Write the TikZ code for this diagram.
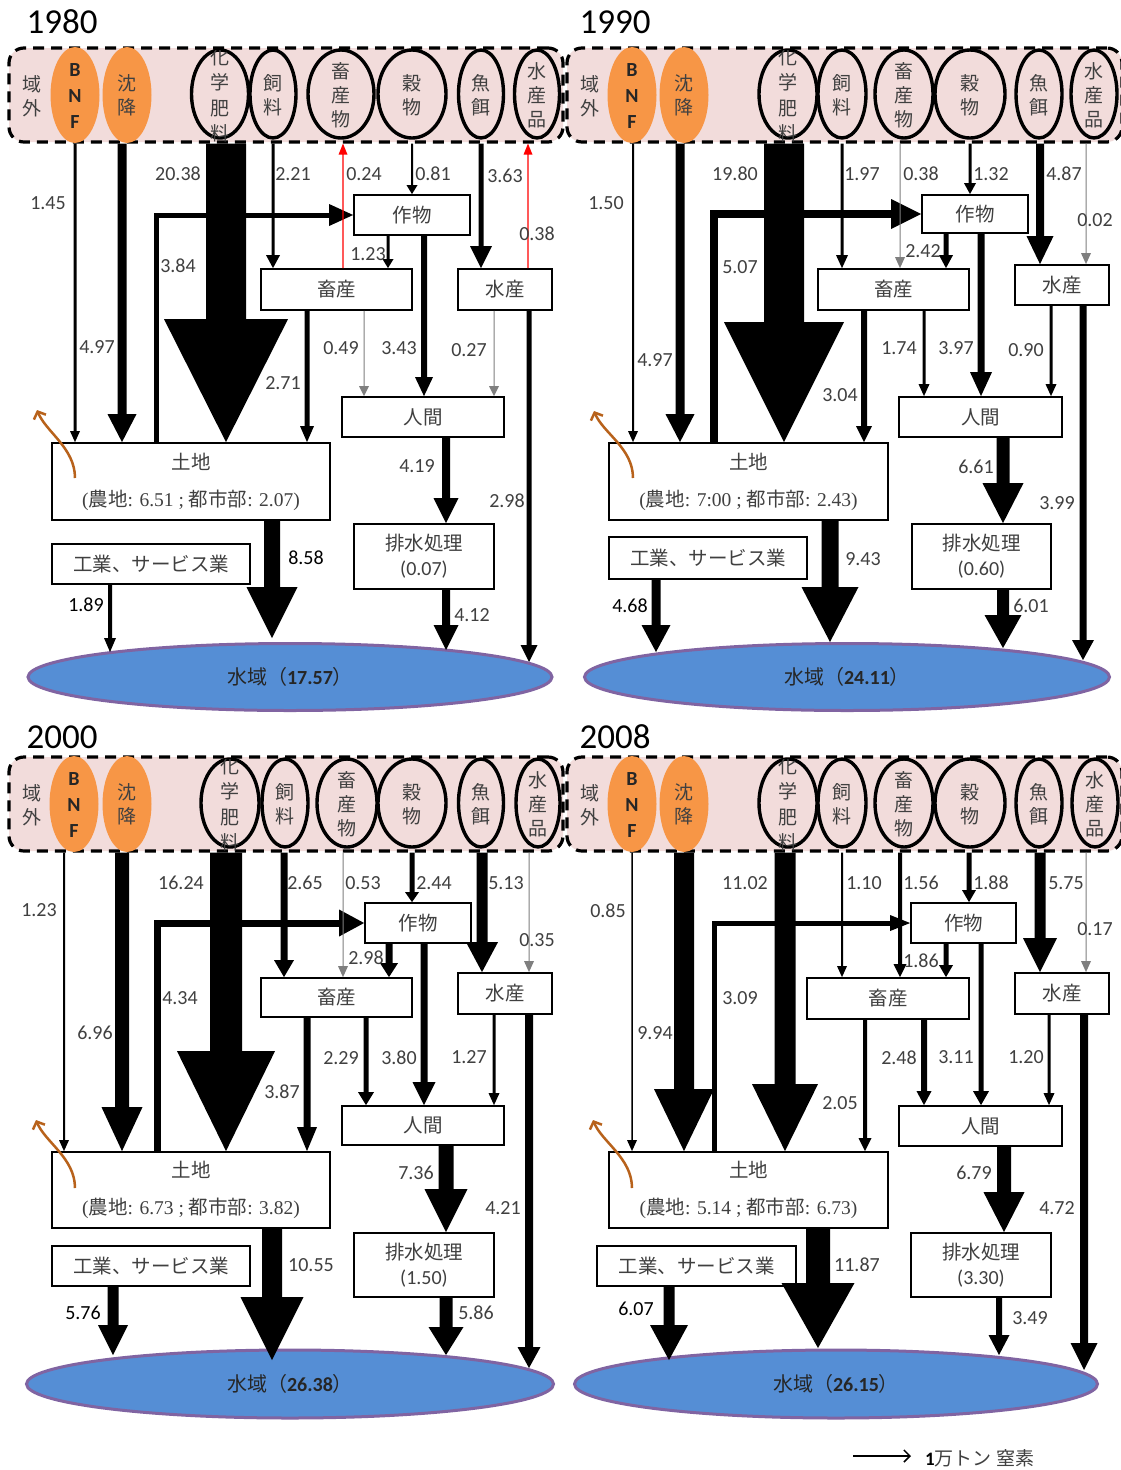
\documentclass[tikz,border=0pt]{standalone}
\usepackage{fontspec}
\setmainfont{Carlito}
\newfontfamily\cjk{Noto Sans CJK JP}
\newfontfamily\serif{Liberation Serif}
\newfontfamily\lat{Carlito}
\usetikzlibrary{calc,shapes.geometric,arrows.meta}

\definecolor{bandpink}{HTML}{F2DCDB}
\definecolor{orangec}{HTML}{F79646}
\definecolor{waterc}{HTML}{558ED5}
\definecolor{waterline}{HTML}{8064A2}
\definecolor{txtc}{HTML}{404040}
\definecolor{brownc}{HTML}{B8621B}
\definecolor{thinc}{HTML}{7F7F7F}
\definecolor{redc}{HTML}{FF0000}
\definecolor{flowc}{HTML}{000000}

\newcommand\ellfont{\fontsize{19}{24}\selectfont\cjk}
\newcommand\fertfont{\fontsize{19}{25.5}\selectfont\cjk}
\newcommand\boxfont{\fontsize{19.5}{25}\selectfont\cjk}
\newcommand\lblfont{\fontsize{20}{24}\selectfont}
\newcommand\yrfont{\fontsize{35}{40}\selectfont}
\newcommand\bnffont{\fontsize{20}{26}\selectfont\bfseries}
\newcommand\watfont{\fontsize{20}{24}\selectfont}

\tikzset{
  bandbox/.style={draw=black, line width=3.2pt, dash pattern=on 11pt off 7pt,
    fill=bandpink, rounded corners=15pt, inner sep=0pt},
  srcell/.style={ellipse, draw=black, line width=3.4pt, inner sep=0pt, minimum height=88pt},
  orell/.style={ellipse, fill=orangec, inner sep=0pt, minimum width=49pt, minimum height=96pt},
  etxt/.style={inner sep=0pt, text=txtc, font=\ellfont, align=center},
  bnft/.style={inner sep=0pt, text=black!85, font=\bnffont, align=center},
  boxs/.style={draw=black, line width=1.8pt, fill=white, inner sep=0pt, text=txtc,
    font=\boxfont, align=center},
  lbl/.style={inner sep=0pt, text=txtc, font=\lblfont},
  lblk/.style={inner sep=0pt, text=black, font=\lblfont},
  yr/.style={inner sep=0pt, font=\yrfont},
  water/.style={ellipse, fill=waterc, draw=waterline, line width=3pt, inner sep=0pt,
    text=black!85, font=\watfont},
  recyc/.style={brownc, line width=2.5pt, -{Straight Barb[length=6pt,width=13pt]}},
}

% rectangular box given by its corners
\newcommand\bx[6]{\node[boxs, minimum width={(#4-#2)*1pt}, minimum height={(#5-#3)*1pt}]
  (#1) at ({(#2+#4)/2},{(#3+#5)/2}) {#6};}
% source ellipse in the top band with stacked text
\newcommand\src[5]{\node[srcell, minimum width=#4pt] (#1) at (#2,#3) {};
  \node[etxt] (#1t) at (#2,#3+1) {#5};}
% downward block arrow: [colour]{x}{from}{to}{shaft}{head width}{head length}
\newcommand\flow[7][flowc]{\fill[#1] let \p1=(#3), \p2=(#4) in
  ({#2pt-#5*0.5pt},\y1) -- ({#2pt-#5*0.5pt},{\y2+#7pt}) -- ({#2pt-#6*0.5pt},{\y2+#7pt})
  -- (#2pt,\y2) -- ({#2pt+#6*0.5pt},{\y2+#7pt}) -- ({#2pt+#5*0.5pt},{\y2+#7pt})
  -- ({#2pt+#5*0.5pt},\y1) -- cycle;}
% thin red upward return flow: {x}{from}{to}
\newcommand\rflow[3]{\fill[redc] let \p1=(#2), \p2=(#3) in
  ({#1pt-0.6pt},\y1) -- ({#1pt-0.6pt},{\y2-11pt}) -- ({#1pt-4.5pt},{\y2-11pt})
  -- (#1pt,\y2) -- ({#1pt+4.5pt},{\y2-11pt}) -- ({#1pt+0.6pt},{\y2-11pt})
  -- ({#1pt+0.6pt},\y1) -- cycle;}
% land -> crop elbow: {x}{from}{to}{width}{head length}{head height}
\newcommand\elbow[6]{\draw[flowc, line width=#4pt, line join=miter] let \p1=(#2), \p2=(#3) in
  (#1pt,\y1) |- ({\x2-#5pt+1pt},\y2);
  \fill[flowc] let \p2=(#3) in ({\x2-#5pt},{\y2+#6*0.5pt}) -- (\x2,\y2)
  -- ({\x2-#5pt},{\y2-#6*0.5pt}) -- cycle;}
\newcounter{labn}
\newcommand\lb[3][lbl]{\stepcounter{labn}\node[#1] (lab\arabic{labn}) at (#2) {#3};}
\newcommand\landline[2]{{\serif(}農地{\serif: #1 ; }都市部{\serif: #2)}}
\newcommand\wat[1]{{\cjk 水域（}\textbf{#1}{\cjk ）}}

\begin{document}
\begin{tikzpicture}[x=1pt,y=-1pt]
\useasboundingbox (0,0) rectangle (1120,1470);
\fill[white] (0,0) rectangle (1120,1470);

%==================== 1980 ====================
\node[yr] (yrA) at (62,22) {1980};
\node[bandbox, minimum width=554pt, minimum height=94pt] (bandA) at (286,95) {};
\node[etxt] (outA) at (32,96) {域\\外};
\node[orell] (bnfA) at (75,95) {};
\node[bnft] (bnftA) at (75,96) {B\\N\\F};
\node[orell] (depA) at (127,95) {};
\node[etxt] (deptA) at (127,95) {沈\\降};
\node[srcell, minimum width=57pt] (fertA) at (220,94) {};
\begin{scope}
  \clip (185,50) rectangle (255,141);
  \node[etxt, font=\fertfont] (ferttA) at (220,95.5) {化\\学\\肥\\料};
\end{scope}
\src{feedA}{273}{94}{46}{飼\\料}
\src{anpA}{341}{94}{66}{畜\\産\\物}
\src{grnA}{412}{94}{68}{穀\\物}
\src{fishA}{481}{94}{45}{魚\\餌}
\src{aqpA}{537}{94}{45}{水\\産\\品}

\node[water, minimum width=524pt, minimum height=67pt] (watA) at (290,677) {\wat{17.57}};
\bx{cropA}{354}{195}{470}{235}{作物}
\bx{liveA}{261}{269}{412}{310}{畜産}
\bx{aquaA}{458}{269}{552}{310}{水産}
\bx{humA}{342}{397}{504}{437}{人間}
\bx{sewA}{354}{524}{494}{589}{排水処理\\{\lat\fontsize{20}{25}\selectfont (0.07)}}
\bx{landA}{52}{443}{330}{520}{土地\\[12pt]\landline{6.51}{2.07}}
\bx{indA}{52}{544}{250}{584}{工業、サービス業}
\coordinate (twAa) at (110,652);
\coordinate (twAb) at (272,638);
\coordinate (twAc) at (446,650);
\coordinate (twAd) at (529,662);

\flow{75}{bandA.south}{landA.north}{3}{10}{11}
\flow{122}{bandA.south}{landA.north}{9}{29}{28}
\flow{226}{bandA.south}{landA.north}{40}{124}{123}
\elbow{156}{landA.north}{cropA.west}{5}{24}{22}
\flow{273}{bandA.south}{liveA.north}{3}{14}{13}
\flow{412}{bandA.south}{cropA.north}{2}{11}{9}
\flow{481}{bandA.south}{aquaA.north}{5}{22}{22}
\flow{388}{cropA.south}{liveA.north}{3}{11}{9}
\flow{424}{cropA.south}{humA.north}{6}{18}{19}
\flow{307}{liveA.south}{landA.north}{5}{14}{16}
\flow[thinc]{364}{liveA.south}{humA.north}{1}{10}{10}
\flow[thinc]{494}{aquaA.south}{humA.north}{1}{10}{10}
\flow{529}{aquaA.south}{twAd}{5}{17}{17}
\flow{446}{humA.south}{sewA.north}{8}{25}{25}
\flow{446}{sewA.south}{twAc}{8}{25}{25}
\flow{272}{landA.south}{twAb}{16}{51}{51}
\flow{110}{indA.south}{twAa}{4}{12}{14}
\rflow{343}{liveA.north}{bandA.south}
\rflow{528}{aquaA.north}{bandA.south}
\coordinate (rcAs) at (75,478);
\coordinate (rcAe) at (37,410);
\draw[recyc] (rcAs) .. controls +(0,-30) and +(9,22) .. (rcAe);

\lb{48,203}{1.45}
\lb{97,347}{4.97}
\lb{178,174}{20.38}
\lb{178,266}{3.84}
\lb{293,174}{2.21}
\lb{364,174}{0.24}
\lb{433,174}{0.81}
\lb{505,176}{3.63}
\lb{537,234}{0.38}
\lb{368,254}{1.23}
\lb{341,348}{0.49}
\lb{399,348}{3.43}
\lb{469,350}{0.27}
\lb{283,383}{2.71}
\lb{417,466}{4.19}
\lb{507,501}{2.98}
\lb[lblk]{306,558}{8.58}
\lb{472,615}{4.12}
\lb[lblk]{86,605}{1.89}

%==================== 1990 ====================
\node[yr] (yrB) at (615,22) {1990};
\node[bandbox, minimum width=555pt, minimum height=94pt] (bandB) at (844.5,95) {};
\node[etxt] (outB) at (590,96) {域\\外};
\node[orell] (bnfB) at (632,95) {};
\node[bnft] (bnftB) at (632,96) {B\\N\\F};
\node[orell] (depB) at (684,95) {};
\node[etxt] (deptB) at (684,95) {沈\\降};
\node[srcell, minimum width=58pt] (fertB) at (788,94) {};
\begin{scope}
  \clip (753,50) rectangle (823,141);
  \node[etxt, font=\fertfont] (ferttB) at (788,95.5) {化\\学\\肥\\料};
\end{scope}
\src{feedB}{842}{94}{48}{飼\\料}
\src{anpB}{904}{94}{58}{畜\\産\\物}
\src{grnB}{970}{94}{70}{穀\\物}
\src{fishB}{1039}{94}{46}{魚\\餌}
\src{aqpB}{1094}{94}{46}{水\\産\\品}

\node[water, minimum width=525pt, minimum height=67pt] (watB) at (847,677) {\wat{24.11}};
\bx{cropB}{922}{195}{1028}{233}{作物}
\bx{liveB}{818}{269}{969}{310}{畜産}
\bx{aquaB}{1015}{265}{1109}{305}{水産}
\bx{humB}{899}{397}{1062}{437}{人間}
\bx{sewB}{912}{524}{1051}{589}{排水処理\\{\lat\fontsize{20}{25}\selectfont (0.60)}}
\bx{landB}{609}{443}{888}{520}{土地\\[12pt]\landline{7:00}{2.43}}
\bx{indB}{609}{537}{807}{579}{工業、サービス業}
\coordinate (twBa) at (656,652);
\coordinate (twBb) at (830,642);
\coordinate (twBc) at (1003,648);
\coordinate (twBd) at (1083,660);

\flow{633}{bandB.south}{landB.north}{2}{10}{11}
\flow{680}{bandB.south}{landB.north}{9}{29}{28}
\flow{784}{bandB.south}{landB.north}{40}{120}{120}
\elbow{714}{landB.north}{cropB.west}{8}{30}{30}
\flow{842}{bandB.south}{liveB.north}{3}{12}{13}
\flow[thinc]{900}{bandB.south}{liveB.north}{1}{10}{11}
\flow{970}{bandB.south}{cropB.north}{3}{12}{11}
\flow{1040}{bandB.south}{aquaB.north}{8}{27}{28}
\flow[thinc]{1086}{bandB.south}{aquaB.north}{1}{10}{11}
\flow{946}{cropB.south}{liveB.north}{5}{14}{13}
\flow{981}{cropB.south}{humB.north}{7}{22}{24}
\flow{864}{liveB.south}{landB.north}{6}{16}{16}
\flow{924}{liveB.south}{humB.north}{3}{11}{12}
\flow{1051}{aquaB.south}{humB.north}{3}{11}{12}
\flow{1083}{aquaB.south}{twBd}{7}{22}{20}
\flow{1003}{humB.south}{sewB.north}{13}{41}{40}
\flow{1003}{sewB.south}{twBc}{12}{37}{33}
\flow{830}{landB.south}{twBb}{17}{57}{55}
\flow{656}{indB.south}{twBa}{9}{29}{27}
\coordinate (rcBs) at (633,478);
\coordinate (rcBe) at (594,411);
\draw[recyc] (rcBs) .. controls +(0,-30) and +(9,22) .. (rcBe);

\lb{606,203}{1.50}
\lb{655,360}{4.97}
\lb{735,174}{19.80}
\lb{740,267}{5.07}
\lb{862,174}{1.97}
\lb{921,174}{0.38}
\lb{991,174}{1.32}
\lb{1064,174}{4.87}
\lb{1095,220}{0.02}
\lb{923,251}{2.42}
\lb{956,348}{3.97}
\lb{899,348}{1.74}
\lb{1026,350}{0.90}
\lb{840,395}{3.04}
\lb{1057,503}{3.99}
\lb{976,467}{6.61}
\lb{1031,606}{6.01}
\lb{863,559}{9.43}
\lb[lblk]{630,606}{4.68}

%==================== 2000 ====================
\node[yr] (yrC) at (62,737) {2000};
\node[bandbox, minimum width=554pt, minimum height=94pt] (bandC) at (286,804) {};
\node[etxt] (outC) at (32,805) {域\\外};
\node[orell] (bnfC) at (74,804) {};
\node[bnft] (bnftC) at (74,805) {B\\N\\F};
\node[orell] (depC) at (127,804) {};
\node[etxt] (deptC) at (127,804) {沈\\降};
\node[srcell, minimum width=58pt] (fertC) at (230,803) {};
\begin{scope}
  \clip (195,759) rectangle (265,850);
  \node[etxt, font=\fertfont] (ferttC) at (230,804.5) {化\\学\\肥\\料};
\end{scope}
\src{feedC}{285}{803}{46}{飼\\料}
\src{anpC}{347}{803}{60}{畜\\産\\物}
\src{grnC}{412}{803}{68}{穀\\物}
\src{fishC}{481}{803}{45}{魚\\餌}
\src{aqpC}{538}{803}{44}{水\\産\\品}

\node[water, minimum width=527pt, minimum height=68pt] (watC) at (290,1384) {\wat{26.38}};
\bx{cropC}{365}{903}{471}{943}{作物}
\bx{liveC}{261}{978}{412}{1017}{畜産}
\bx{aquaC}{458}{973}{552}{1014}{水産}
\bx{humC}{342}{1106}{504}{1145}{人間}
\bx{sewC}{354}{1233}{494}{1297}{排水処理\\{\lat\fontsize{20}{25}\selectfont (1.50)}}
\bx{landC}{52}{1152}{330}{1228}{土地\\[12pt]\landline{6.73}{3.82}}
\bx{indC}{52}{1246}{250}{1286}{工業、サービス業}
\coordinate (twCa) at (113,1355);
\coordinate (twCb) at (272,1360);
\coordinate (twCc) at (446,1355);
\coordinate (twCd) at (529,1368);

\flow{64}{bandC.south}{landC.north}{2}{10}{11}
\flow{122}{bandC.south}{landC.north}{14}{41}{44}
\flow{226}{bandC.south}{landC.north}{32}{98}{100}
\elbow{157}{landC.north}{cropC.west}{7}{25}{27}
\flow{284}{bandC.south}{liveC.north}{7}{20}{17}
\flow[thinc]{343}{bandC.south}{liveC.north}{1}{10}{11}
\flow{412}{bandC.south}{cropC.north}{5}{14}{10}
\flow{482}{bandC.south}{aquaC.north}{11}{32}{30}
\flow[thinc]{529}{bandC.south}{aquaC.north}{1}{10}{11}
\flow{389}{cropC.south}{liveC.north}{7}{18}{14}
\flow{424}{cropC.south}{humC.north}{7}{23}{23}
\flow{307}{liveC.south}{landC.north}{7}{20}{24}
\flow{366}{liveC.south}{humC.north}{5}{16}{13}
\flow{494}{aquaC.south}{humC.north}{3}{11}{12}
\flow{529}{aquaC.south}{twCd}{8}{23}{21}
\flow{446}{humC.south}{sewC.north}{15}{43}{43}
\flow{446}{sewC.south}{twCc}{13}{35}{28}
\flow{272}{landC.south}{twCb}{20}{63}{63}
\flow{113}{indC.south}{twCa}{11}{30}{30}
\coordinate (rcCs) at (75,1188);
\coordinate (rcCe) at (36,1120);
\draw[recyc] (rcCs) .. controls +(0,-30) and +(9,22) .. (rcCe);

\lb{39,910}{1.23}
\lb{95,1033}{6.96}
\lb{181,883}{16.24}
\lb{180,998}{4.34}
\lb{305,883}{2.65}
\lb{363,883}{0.53}
\lb{434,883}{2.44}
\lb{506,883}{5.13}
\lb{537,940}{0.35}
\lb{366,958}{2.98}
\lb{399,1058}{3.80}
\lb{341,1058}{2.29}
\lb{469,1057}{1.27}
\lb{282,1092}{3.87}
\lb{503,1208}{4.21}
\lb{416,1173}{7.36}
\lb{476,1313}{5.86}
\lb{311,1265}{10.55}
\lb[lblk]{83,1313}{5.76}

%==================== 2008 ====================
\node[yr] (yrD) at (615,737) {2008};
\node[bandbox, minimum width=555pt, minimum height=94pt] (bandD) at (844.5,804) {};
\node[etxt] (outD) at (590,805) {域\\外};
\node[orell] (bnfD) at (632,804) {};
\node[bnft] (bnftD) at (632,805) {B\\N\\F};
\node[orell] (depD) at (684,804) {};
\node[etxt] (deptD) at (684,804) {沈\\降};
\node[srcell, minimum width=58pt] (fertD) at (788,803) {};
\begin{scope}
  \clip (753,759) rectangle (823,850);
  \node[etxt, font=\fertfont] (ferttD) at (788,804.5) {化\\学\\肥\\料};
\end{scope}
\src{feedD}{842}{803}{48}{飼\\料}
\src{anpD}{904}{803}{58}{畜\\産\\物}
\src{grnD}{970}{803}{70}{穀\\物}
\src{fishD}{1039}{803}{46}{魚\\餌}
\src{aqpD}{1095}{803}{46}{水\\産\\品}

\node[water, minimum width=523pt, minimum height=68pt] (watD) at (836,1384) {\wat{26.15}};
\bx{cropD}{911}{903}{1016}{943}{作物}
\bx{liveD}{807}{978}{969}{1019}{畜産}
\bx{aquaD}{1015}{973}{1109}{1014}{水産}
\bx{humD}{899}{1106}{1062}{1146}{人間}
\bx{sewD}{911}{1233}{1051}{1297}{排水処理\\{\lat\fontsize{20}{25}\selectfont (3.30)}}
\bx{landD}{609}{1152}{888}{1228}{土地\\[12pt]\landline{5.14}{6.73}}
\bx{indD}{597}{1246}{796}{1286}{工業、サービス業}
\coordinate (twDa) at (669,1360);
\coordinate (twDb) at (818,1348);
\coordinate (twDc) at (999,1355);
\coordinate (twDd) at (1084,1370);

\flow{632}{bandD.south}{landD.north}{1.5}{10}{11}
\flow{684}{bandD.south}{landD.north}{20}{60}{62}
\flow{785}{bandD.south}{landD.north}{21}{66}{67}
\elbow{714}{landD.north}{cropD.west}{5}{20}{16}
\flow{842}{bandD.south}{liveD.north}{2}{10}{11}
\flow{900}{bandD.south}{liveD.north}{4}{13}{13}
\flow{969}{bandD.south}{cropD.north}{5}{14}{12}
\flow{1040}{bandD.south}{aquaD.north}{11}{34}{34}
\flow[thinc]{1086}{bandD.south}{aquaD.north}{1}{10}{11}
\flow{946}{cropD.south}{liveD.north}{5}{14}{12}
\flow{981}{cropD.south}{humD.north}{5}{16}{14}
\flow{865}{liveD.south}{landD.north}{4}{13}{13}
\flow{924}{liveD.south}{humD.north}{6}{15}{14}
\flow{1049}{aquaD.south}{humD.north}{3}{11}{12}
\flow{1084}{aquaD.south}{twDd}{8}{27}{27}
\flow{1004}{humD.south}{sewD.north}{14}{41}{40}
\flow{999}{sewD.south}{twDc}{6}{21}{20}
\flow{818}{landD.south}{twDb}{24}{73}{65}
\flow{669}{indD.south}{twDa}{11}{38}{35}
\coordinate (rcDs) at (632,1188);
\coordinate (rcDe) at (593,1120);
\draw[recyc] (rcDs) .. controls +(0,-30) and +(9,22) .. (rcDe);

\lb{608,911}{0.85}
\lb{655,1033}{9.94}
\lb{745,883}{11.02}
\lb{740,998}{3.09}
\lb{864,883}{1.10}
\lb{921,883}{1.56}
\lb{991,883}{1.88}
\lb{1066,883}{5.75}
\lb{1095,929}{0.17}
\lb{921,961}{1.86}
\lb{956,1057}{3.11}
\lb{899,1058}{2.48}
\lb{1026,1057}{1.20}
\lb{840,1103}{2.05}
\lb{1057,1208}{4.72}
\lb{974,1173}{6.79}
\lb{1030,1318}{3.49}
\lb{857,1265}{11.87}
\lb[lblk]{636,1309}{6.07}

%==================== scale ====================
\coordinate (lgA) at (853,1456);
\coordinate (lgB) at (911,1456);
\draw[line width=1.5pt, -{Straight Barb[length=6pt,width=12pt]}] (lgA) -- (lgB);
\node[inner sep=0pt, anchor=west, text=txtc, font=\fontsize{19}{24}\selectfont] (unit) at (925,1458)
  {\textbf{\color{black}1}{\cjk 万トン 窒素}};
\end{tikzpicture}
\end{document}
